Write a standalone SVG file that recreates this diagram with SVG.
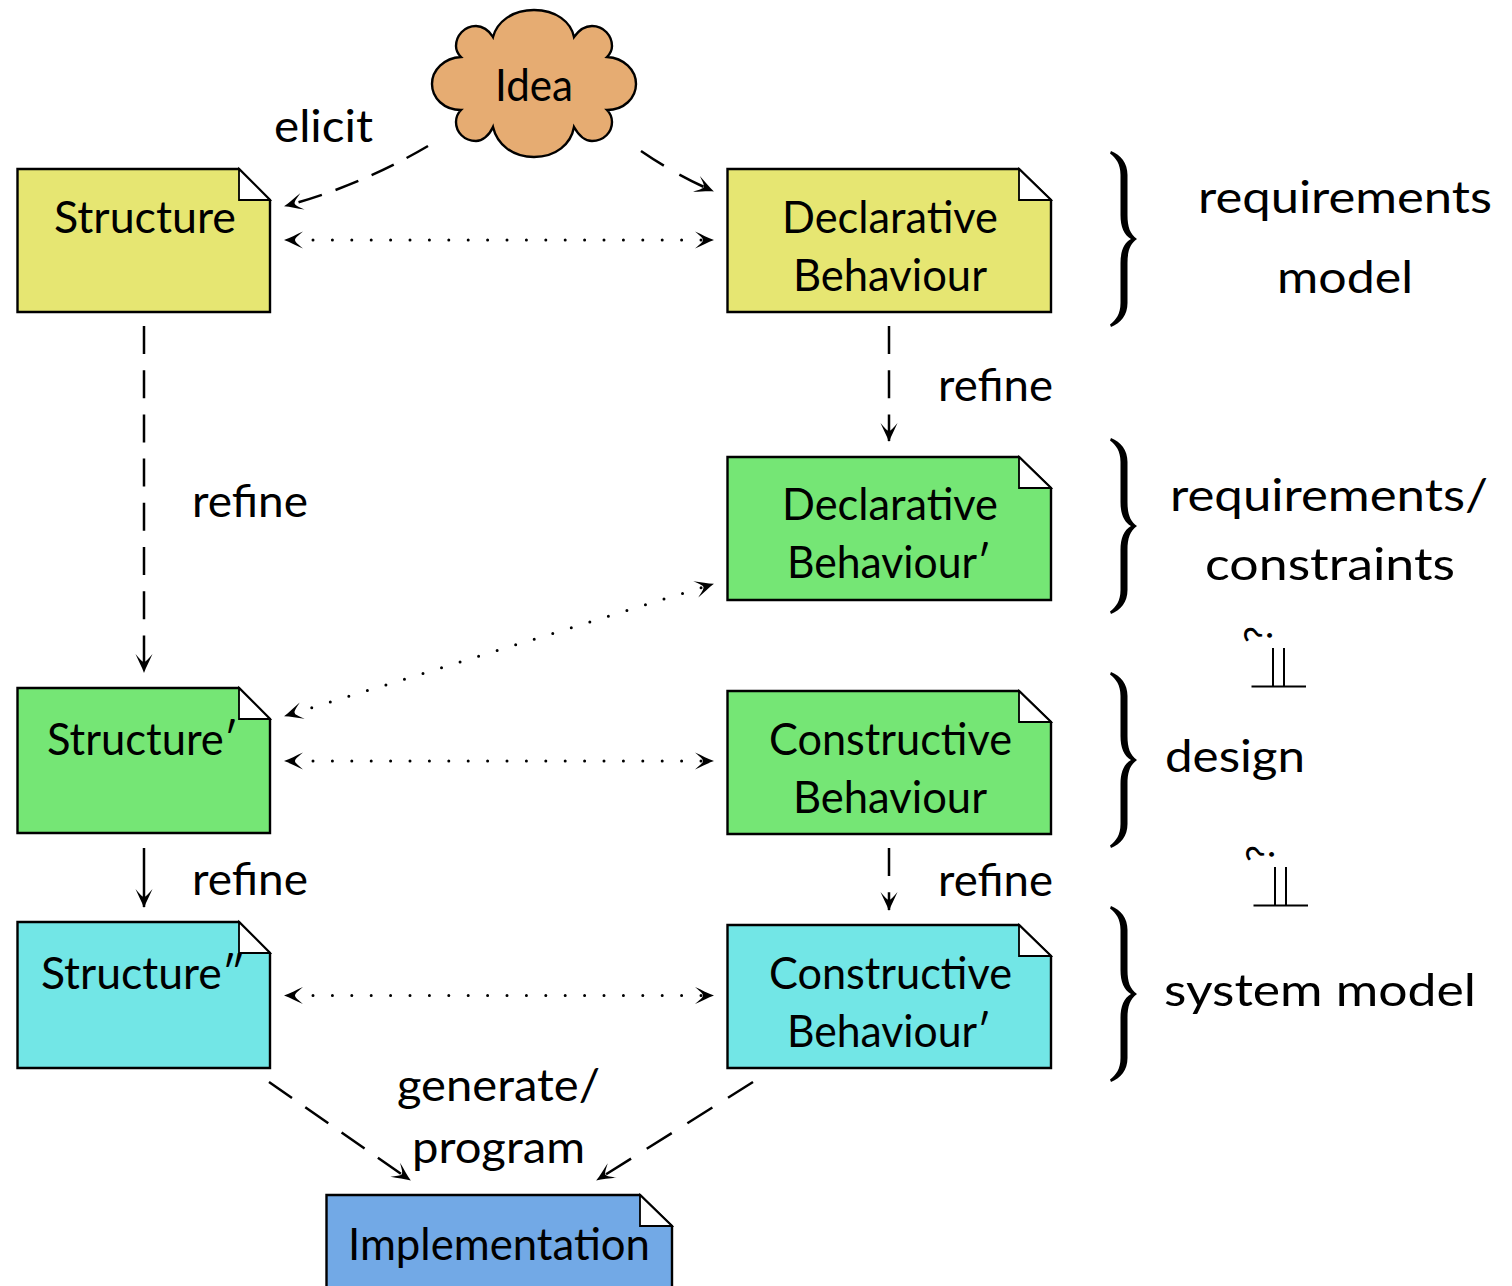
<svg xmlns="http://www.w3.org/2000/svg" width="1512" height="1286" viewBox="0 0 1512 1286">
<style>
text{font-family:Lato,"Noto Sans","Liberation Sans",sans-serif;font-size:45px;fill:#000}
.doc{stroke:#000;stroke-width:2.400}
.fold{fill:#fff;stroke:#000;stroke-width:1.800;stroke-linejoin:miter}
.y{fill:#e6e672}.g{fill:#75e675}.c{fill:#72e6e6}.b{fill:#72a9e6}
.cn{fill:none;stroke:#000;stroke-width:2.500}
.dash{stroke-dasharray:28 16.200;marker-end:url(#ah)}
.dash-a{stroke-dasharray:24.500 14.500}
.dash-b{stroke-dasharray:27 18}
.dash-c{stroke-dasharray:29.500 18.500}
.dot{stroke-dasharray:0 19.400;stroke-linecap:round;stroke-width:3;stroke-dashoffset:10.800;marker-start:url(#ah);marker-end:url(#ah)}
.solid{marker-end:url(#ah)}
.rel{fill:none;stroke:#000;stroke-width:2}
.q{font-size:38px}
</style>
<defs>
<marker id="ah" markerUnits="userSpaceOnUse" markerWidth="32" markerHeight="24" refX="21" refY="12" orient="auto-start-reverse" overflow="visible">
<path d="M3,3.500 C10,6.500 16,10 22,12 C16,14 10,17.500 3,20.500 C7,17 11,14 11,12 C11,10 7,7 3,3.500Z" fill="#000"/>
</marker>
<path id="brace" d="M1111,-88 C1121,-84 1127.500,-76 1127.500,-64 L1127.500,-24 C1127.500,-12 1130,-5 1137,0 C1130,5 1127.500,12 1127.500,24 L1127.500,64 C1127.500,76 1121,84 1111,88 L1110,85.500 C1116,81 1120.500,75 1120.500,64 L1120.500,24 C1120.500,12 1124,4 1131,0 C1124,-4 1120.500,-12 1120.500,-24 L1120.500,-64 C1120.500,-75 1116,-81 1110,-85.500Z" fill="#000"/>
</defs>
<rect width="1512" height="1286" fill="#fff"/>

<g id="connectors">
<path class="cn dash dash-a" d="M428,146 Q360,186 285,206"/>
<path class="cn dash dash-b" d="M641,151 Q676,175 713,191"/>
<path class="cn dot" d="M285,240 H713"/>
<path class="cn dash" d="M144,326 V672"/>
<path class="cn dash" d="M889,326 V441"/>
<path class="cn dot" d="M285,716 L713,584"/>
<path class="cn dot" d="M285,761 H713"/>
<path class="cn solid" d="M144,848 V907"/>
<path class="cn dash" d="M889,848 V910"/>
<path class="cn dot" d="M285,995.500 H713"/>
<path class="cn dash" d="M269,1082 L410,1180"/>
<path class="cn dash dash-c" d="M753,1082 L597,1180"/>
</g>

<g id="idea">
<path d="M493,37 C497,22 512,10 534,10 C556,10 571,22 574,37 C579,30 586,26 592,26 C604,26 612,36 612,46 C612,50 610,54 607,57 C624,58 636,70 636,84 C636,98 624,110 607,110 C610,113 612,118 612,122 C612,132 604,141 592,141 C586,141 579,136 574,127 C571,144 556,157 534,157 C512,157 497,144 493,127 C489,136 482,141 476,141 C464,141 456,132 456,122 C456,118 458,113 461,110 C444,110 432,98 432,84 C432,70 444,58 461,57 C458,54 456,50 456,46 C456,36 464,26 476,26 C482,26 489,30 493,37Z" fill="#e6ac72" stroke="#000" stroke-width="2.400"/>
<text x="495" y="101" textLength="78" lengthAdjust="spacingAndGlyphs">Idea</text>
</g>

<g id="structure">
<path class="doc y" d="M17.500,169 H239 L270,200 V312 H17.500Z"/><path class="fold" d="M239,169 L270,200 H239Z"/>
<text x="54" y="233" textLength="182" lengthAdjust="spacingAndGlyphs">Structure</text>
</g>
<g id="declarative-behaviour">
<path class="doc y" d="M727.500,169 H1019 L1051,200 V312 H727.500Z"/><path class="fold" d="M1019,169 L1051,200 H1019Z"/>
<text x="782" y="233" textLength="216" lengthAdjust="spacingAndGlyphs">Declarative</text>
<text x="793" y="291" textLength="194" lengthAdjust="spacingAndGlyphs">Behaviour</text>
</g>
<g id="declarative-behaviour-prime">
<path class="doc g" d="M727.500,457 H1019 L1051,488 V600 H727.500Z"/><path class="fold" d="M1019,457 L1051,488 H1019Z"/>
<text x="782" y="520" textLength="216" lengthAdjust="spacingAndGlyphs">Declarative</text>
<text x="787" y="578" textLength="204" lengthAdjust="spacingAndGlyphs">Behaviour′</text>
</g>
<g id="structure-prime">
<path class="doc g" d="M17.500,688 H239 L270,719 V833 H17.500Z"/><path class="fold" d="M239,688 L270,719 H239Z"/>
<text x="47" y="755" textLength="191" lengthAdjust="spacingAndGlyphs">Structure′</text>
</g>
<g id="constructive-behaviour">
<path class="doc g" d="M727.500,691 H1019 L1051,722 V834 H727.500Z"/><path class="fold" d="M1019,691 L1051,722 H1019Z"/>
<text x="769" y="755" textLength="243" lengthAdjust="spacingAndGlyphs">Constructive</text>
<text x="793" y="813" textLength="194" lengthAdjust="spacingAndGlyphs">Behaviour</text>
</g>
<g id="structure-dprime">
<path class="doc c" d="M17.500,922 H239 L270,953 V1068 H17.500Z"/><path class="fold" d="M239,922 L270,953 H239Z"/>
<text x="41" y="989" textLength="204" lengthAdjust="spacingAndGlyphs">Structure″</text>
</g>
<g id="constructive-behaviour-prime">
<path class="doc c" d="M727.500,925 H1019 L1051,956 V1068 H727.500Z"/><path class="fold" d="M1019,925 L1051,956 H1019Z"/>
<text x="769" y="989" textLength="243" lengthAdjust="spacingAndGlyphs">Constructive</text>
<text x="787" y="1047" textLength="204" lengthAdjust="spacingAndGlyphs">Behaviour′</text>
</g>
<g id="implementation">
<path class="doc b" d="M326.500,1195 H640 L672,1226 V1300 H326.500Z"/><path class="fold" d="M640,1195 L672,1226 H640Z"/>
<text x="348" y="1260" textLength="302" lengthAdjust="spacingAndGlyphs">Implementation</text>
</g>

<g id="labels">
<text x="274" y="142" textLength="99" lengthAdjust="spacingAndGlyphs">elicit</text>
<text x="938" y="401" textLength="115" lengthAdjust="spacingAndGlyphs">refine</text>
<text x="192" y="517" textLength="116" lengthAdjust="spacingAndGlyphs">refine</text>
<text x="192" y="895" textLength="116" lengthAdjust="spacingAndGlyphs">refine</text>
<text x="938" y="896" textLength="115" lengthAdjust="spacingAndGlyphs">refine</text>
<text x="397" y="1101" textLength="203" lengthAdjust="spacingAndGlyphs">generate/</text>
<text x="412" y="1163" textLength="173" lengthAdjust="spacingAndGlyphs">program</text>
</g>

<g id="braces">
<use href="#brace" y="239"/>
<use href="#brace" y="526"/>
<use href="#brace" y="760"/>
<use href="#brace" y="994"/>
</g>
<g id="brace-labels">
<text x="1198" y="213" textLength="294" lengthAdjust="spacingAndGlyphs">requirements</text>
<text x="1277" y="293" textLength="136" lengthAdjust="spacingAndGlyphs">model</text>
<text x="1170" y="511" textLength="318" lengthAdjust="spacingAndGlyphs">requirements/</text>
<text x="1205" y="580" textLength="250" lengthAdjust="spacingAndGlyphs">constraints</text>
<text x="1165" y="772" textLength="140" lengthAdjust="spacingAndGlyphs">design</text>
<text x="1164" y="1006" textLength="312" lengthAdjust="spacingAndGlyphs">system model</text>
</g>
<g id="relations">
<path class="rel" d="M1251.500,686.500 H1306 M1273,648 V686 M1284,648 V686"/>
<text class="q" transform="translate(1272,643) rotate(-90)">?</text>
<path class="rel" d="M1253.500,905.500 H1308 M1275,867 V905 M1286,867 V905"/>
<text class="q" transform="translate(1274,862) rotate(-90)">?</text>
</g>
</svg>
